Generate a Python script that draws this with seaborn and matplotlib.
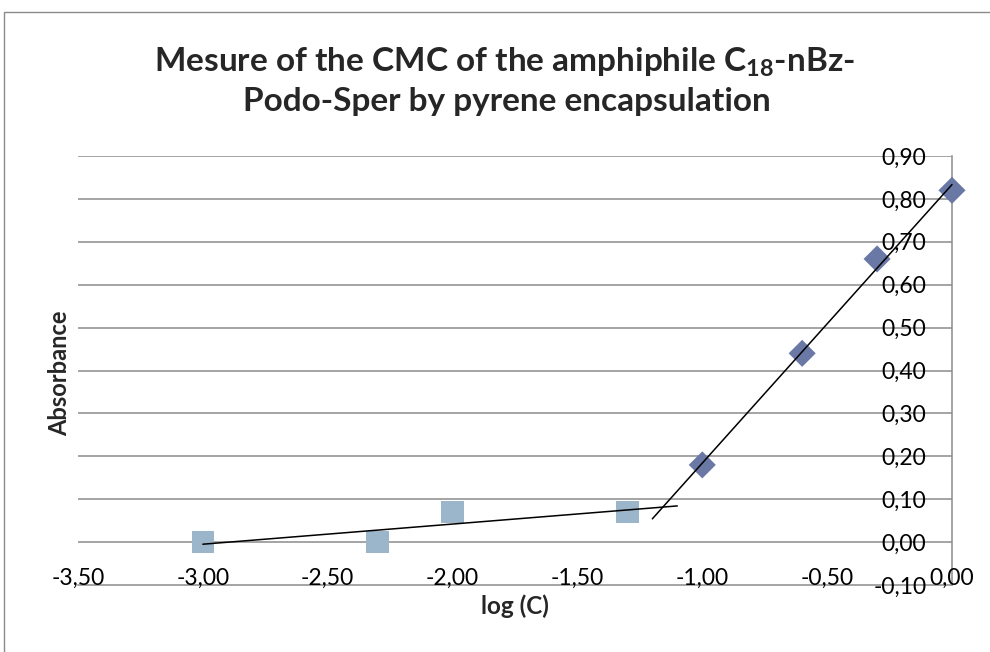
import numpy as np
import pandas as pd
import matplotlib
matplotlib.use('Agg')
import matplotlib.pyplot as plt
import seaborn as sns
from matplotlib.ticker import FixedLocator, FuncFormatter
from matplotlib.patches import Rectangle

# data
log_c_low = [-3.0, -2.3, -2.0, -1.3]
abs_low = [0.0, 0.0, 0.07, 0.07]
log_c_high = [-1.0, -0.6, -0.3, 0.0]
abs_high = [0.18, 0.44, 0.66, 0.82]

x_ticks = [-3.5, -3.0, -2.5, -2.0, -1.5, -1.0, -0.5, 0.0]
y_ticks = [-0.1, 0.0, 0.1, 0.2, 0.3, 0.4, 0.5, 0.6, 0.7, 0.8, 0.9]

df_low = pd.DataFrame({'logC': log_c_low, 'Abs': abs_low})
df_high = pd.DataFrame({'logC': log_c_high, 'Abs': abs_high})

sns.set_style('white')
plt.rcParams['font.family'] = ['Lato', 'DejaVu Sans']
plt.rcParams['mathtext.fontset'] = 'custom'
plt.rcParams['mathtext.rm'] = 'Lato'
plt.rcParams['mathtext.bf'] = 'Lato:bold'

fig = plt.figure(figsize=(9.9, 6.52), dpi=100)
ax = fig.add_axes([78 / 990, 1 - 585 / 652, (952 - 78) / 990, (585 - 156) / 652])

# chart area border
fig.add_artist(Rectangle((4 / 990, -0.1), 1.2, 1 - 12 / 652 + 0.1, transform=fig.transFigure,
                         fill=False, edgecolor='#8a8a8a', linewidth=1.0))

# horizontal gridlines
for v in y_ticks[1:]:
    ax.axhline(v, color='#8c8c8c', linewidth=1.1, zorder=0)

sns.scatterplot(data=df_low, x='logC', y='Abs', marker='s', s=260, color='#9bb5cb',
                edgecolor='none', ax=ax, zorder=3, clip_on=False)
sns.scatterplot(data=df_high, x='logC', y='Abs', marker='D', s=190, color='#6a78a5',
                edgecolor='none', ax=ax, zorder=3, clip_on=False)

# linear trendlines (forward / backward extension of 0.2)
p1 = np.polyfit(log_c_low, abs_low, 1)
xl = np.array([min(log_c_low), max(log_c_low) + 0.2])
ax.plot(xl, np.polyval(p1, xl), color='black', linewidth=1.1, zorder=4, clip_on=False)
p2 = np.polyfit(log_c_high, abs_high, 1)
xh = np.array([min(log_c_high) - 0.2, max(log_c_high)])
ax.plot(xh, np.polyval(p2, xh), color='black', linewidth=1.1, zorder=4, clip_on=False)

ax.set_xlim(-3.5, 0.0)
ax.set_ylim(-0.1, 0.9)

fmt = FuncFormatter(lambda v, pos: f'{v:.2f}'.replace('.', ','))
ax.xaxis.set_major_locator(FixedLocator(x_ticks))
ax.yaxis.set_major_locator(FixedLocator(y_ticks))
ax.xaxis.set_major_formatter(fmt)
ax.yaxis.set_major_formatter(fmt)

ax.spines['top'].set_visible(False)
ax.spines['right'].set_visible(False)
ax.spines['left'].set_position(('data', 0.0))
for sp in ['left', 'bottom']:
    ax.spines[sp].set_color('#8c8c8c')
    ax.spines[sp].set_linewidth(1.1)
ax.spines['left'].set_zorder(1)

ax.tick_params(axis='x', length=0, pad=-12.5, labelsize=16.5, colors='black')
ax.tick_params(axis='y', length=0, pad=18.5, labelsize=16.5, colors='black')
ax.set_axisbelow(False)

ax.set_xlabel('log (C)', fontsize=17.5, fontweight='bold', labelpad=4)
ax.set_ylabel('')
fig.text(60 / 990, 1 - 373 / 652, 'Absorbance', rotation=90, fontsize=17, fontweight='bold',
         ha='center', va='center')

fig.text(505 / 990, 1 - 62 / 652, r'Mesure of the CMC of the amphiphile C$_{\mathbf{18}}$-nBz-',
         fontsize=24, fontweight='bold', ha='center', va='center')
fig.text(507 / 990, 1 - 102 / 652, 'Podo-Sper by pyrene encapsulation',
         fontsize=24, fontweight='bold', ha='center', va='center')

fig.savefig('out.png', dpi=100)
